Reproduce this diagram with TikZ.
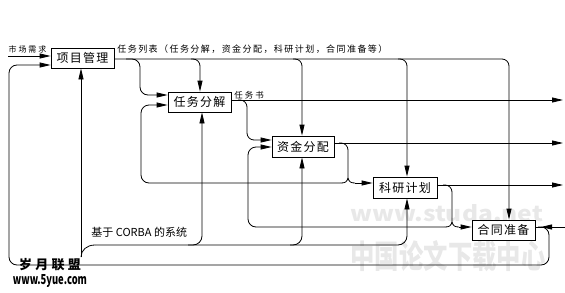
\documentclass[tikz,border=0pt]{standalone}
\usepackage{fontspec}
\usepackage{graphicx}
\setmainfont{Noto Sans CJK SC}
\usetikzlibrary{arrows.meta}
\tikzset{
  arr/.style={-{Triangle[length=11pt,width=5pt]}},
  box/.style={draw, line width=0.8pt, inner sep=0pt, minimum height=20pt,
    font=\fontsize{12}{12}\selectfont\addfontfeatures{LetterSpace=10}},
  smalllab/.style={inner sep=0pt, font=\fontsize{8.5}{8.5}\selectfont\addfontfeatures{LetterSpace=24}},
  toplab/.style={inner sep=0pt, font=\fontsize{9}{9}\selectfont\addfontfeatures{LetterSpace=16}},
  mechlab/.style={inner sep=0pt, font=\fontsize{11}{11}\selectfont},
  wmgrey/.style={inner sep=0pt, text=gray!18, font=\bfseries},
  wmblack/.style={inner sep=0pt, text=black, font=\bfseries},
}
\begin{document}
\begin{tikzpicture}[x=1pt,y=-1pt,line width=0.8pt]
\useasboundingbox (0,0) rectangle (565,292);
% grey watermark
\node[wmgrey] (wm1) at (447,213) {\resizebox{192pt}{17pt}{www.studa.net}};
\node[wmgrey] (wm2) at (448,256) {\resizebox{195pt}{28pt}{中国论文下载中心}};

% boxes
\node[box, minimum width=63pt] (A) at (82.5,58) {项目管理};
\node[box, minimum width=63pt] (B) at (199.5,102) {任务分解};
\node[box, minimum width=62pt, minimum height=21pt] (C) at (303,146.5) {资金分配};
\node[box, minimum width=64pt, minimum height=21pt] (D) at (405,187.5) {科研计划};
\node[box, minimum width=63pt] (E) at (503.5,230) {合同准备};

% labels
\node[smalllab] (l0) at (27.5,49) {\fontsize{8}{8}\selectfont 市场需求};
\node[toplab, anchor=west] (l1) at (117,49) {任务列表（任务分解，资金分配，科研计划，合同准备等）};
\node[smalllab, anchor=west] (l2) at (234,95) {任务书};
\node[mechlab, anchor=west] (l3) at (91,232) {基于 CORBA 的系统};

% coordinates
\coordinate (in0) at (8,56);
\coordinate (j1) at (126,59);
\coordinate (j2) at (191,59);
\coordinate (j3) at (293,59);
\coordinate (j4) at (398,59);
\coordinate (c3) at (140,95);
\coordinate (j5) at (238,100);
\coordinate (c4) at (247,140);
\coordinate (j6) at (339,143);
\coordinate (lamA) at (348,178);
\coordinate (l1a) at (341,183);
\coordinate (r1a) at (355,183);
\coordinate (c1) at (141,183);
\coordinate (j7) at (443,185);
\coordinate (lamB) at (452,222);
\coordinate (l2a) at (445,227);
\coordinate (r2a) at (459,227);
\coordinate (c2) at (248,227);
\coordinate (m0) at (81,257);
\coordinate (m1) at (95,245);
\coordinate (m2) at (188,245);
\coordinate (m3) at (290,245);
\coordinate (fb0) at (538,227);
\coordinate (fbR) at (549,265);
\coordinate (fbL) at (9,65);
\coordinate (o1) at (563,100);
\coordinate (o2) at (563,143);
\coordinate (o3) at (563,185);
\coordinate (o4) at (565,227);
\coordinate (ea) at (558,227);
\coordinate (eb) at (541,227);

% input
\draw[arr] (in0) -- ([yshift=2pt]A.west);

% output of A with branches
\draw[arr, rounded corners=7pt] ([yshift=-1pt]A.east) -| ([xshift=5.5pt]E.north);
\draw[arr, rounded corners=8pt] (j1) -| (c3) -- ([yshift=7pt]B.west);
\draw[arr, rounded corners=7pt] (j2) -| ([xshift=0.5pt]B.north);
\draw[arr, rounded corners=7pt] (j3) -| ([xshift=-1pt]C.north);
\draw[arr, rounded corners=7pt] (j4) -| ([xshift=2pt]D.north);

% output of B
\draw[arr] ([yshift=2pt]B.east) -- (o1);
\draw[arr, rounded corners=7pt] (j5) -| (c4) -- ([yshift=6.5pt]C.west);

% output of C
\draw[arr] ([yshift=3.5pt]C.east) -- (o2);
\draw[rounded corners=7pt] (j6) -| (lamA);
\draw (lamA) .. controls (349,182) and (351,183) .. (r1a);
\draw[arr] (r1a) -- ([yshift=4.5pt]D.west);
\draw (lamA) .. controls (347,182) and (345,183) .. (l1a);
\draw[arr, rounded corners=8pt] (l1a) -- (c1) |- ([yshift=-3pt]B.west);

% output of D
\draw[arr] ([yshift=2.5pt]D.east) -- (o3);
\draw[rounded corners=7pt] (j7) -| (lamB);
\draw (lamB) .. controls (453,226) and (455,227) .. (r2a);
\draw[arr] (r2a) -- ([yshift=3pt]E.west);
\draw (lamB) .. controls (451,226) and (449,227) .. (l2a);
\draw[arr, rounded corners=8pt] (l2a) -- (c2) |- ([yshift=-0.5pt]C.west);

% E right side
\draw ([yshift=3pt]E.east) -- (o4);
\draw[arr] (ea) -- (eb);

% mechanism bus
\draw (m0) .. controls (81,250) and (87,245) .. (m1);
\draw[arr] (m0) -- ([xshift=-1.5pt]A.south);
\draw[arr, rounded corners=9pt] (m1) -| ([xshift=2pt]D.south);
\draw[arr, rounded corners=9pt] (m2) -| ([xshift=2.5pt]B.south);
\draw[arr, rounded corners=9pt] (m3) -| ([xshift=-1pt]C.south);

% feedback loop
\draw[arr, rounded corners=8pt] (fb0) -| (fbR) -| (fbL) -- ([yshift=-7pt]A.west);

% black watermark
\node[wmblack] (wm3) at (50,265) {\fontsize{13}{13}\selectfont\addfontfeatures{LetterSpace=25}岁月联盟};
\node[wmblack] (wm4) at (50,281) {\resizebox{74pt}{10pt}{www.5yue.com}};
\end{tikzpicture}
\end{document}
